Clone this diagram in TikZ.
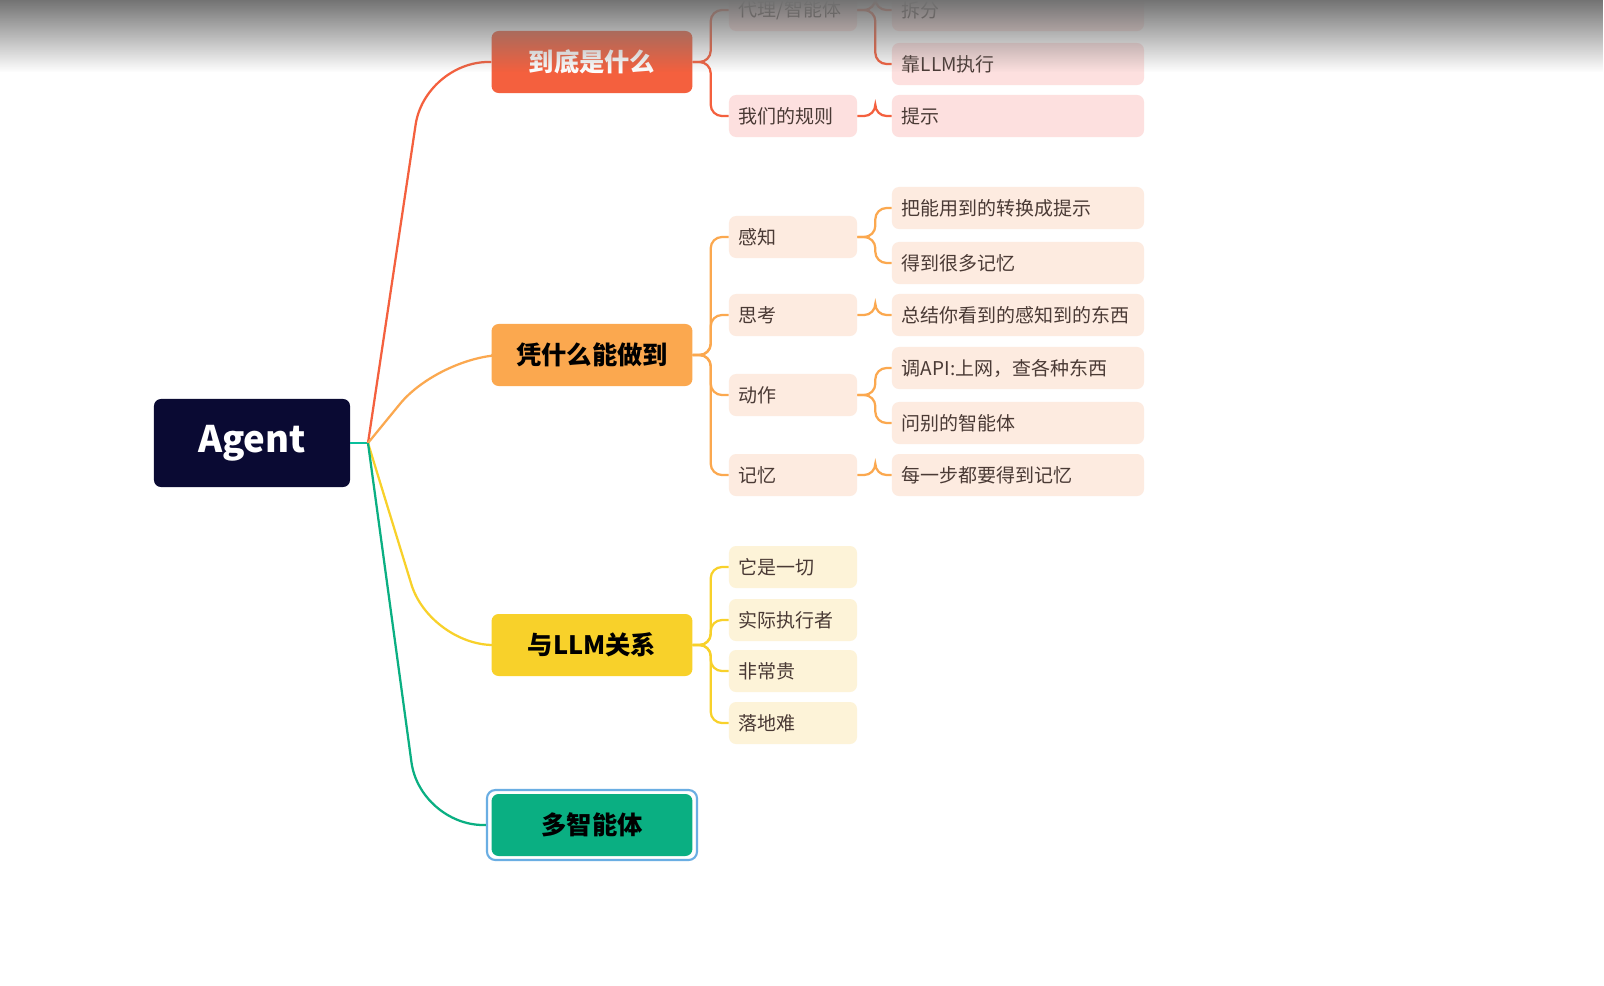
\documentclass[tikz,border=0pt]{standalone}
\usepackage{fontspec}
\setmainfont{Noto Sans CJK SC}
\usetikzlibrary{fadings}
\definecolor{navy}{HTML}{0A0A33}
\definecolor{redb}{HTML}{F4603E}
\definecolor{orangeb}{HTML}{FBA84F}
\definecolor{yellowb}{HTML}{F8D12A}
\definecolor{greenb}{HTML}{0AAF82}
\definecolor{redl}{HTML}{FDE0DF}
\definecolor{orangel}{HTML}{FDEBE0}
\definecolor{yellowl}{HTML}{FDF3D8}
\definecolor{leaftext}{HTML}{4A3A35}
\tikzset{
  main/.style={rounded corners=5pt,minimum width=5.02cm,minimum height=1.55cm,font=\fontsize{18}{20}\selectfont\bfseries},
  sub/.style={rounded corners=5pt,minimum height=1.05cm,text=leaftext,font=\fontsize{13.5}{15}\selectfont,align=left,text width=2.7cm,inner xsep=0.25cm},
  leaf/.style={sub,text width=5.8cm},
  link/.style={line width=1.6pt,rounded corners=8pt}
}
\begin{document}
\begin{tikzpicture}[x=0.025cm,y=-0.025cm]
\fill[white] (0,0) rectangle (1604,986);
\useasboundingbox (0,0) rectangle (1604,986);
% root
\node[fill=navy,rounded corners=5pt,minimum width=4.9cm,minimum height=2.2cm,text=white,font=\fontsize{26}{28}\selectfont\bfseries] (agent) at (252,443) {Agent};
% branches
\node[main,fill=redb,text=white] (what) at (592,62) {到底是什么};
\node[main,fill=orangeb] (how) at (592,355) {凭什么能做到};
\node[main,fill=yellowb] (llm) at (592,645) {与LLM关系};
\node[draw=cyan!70!blue!60,line width=1.5pt,rounded corners=6pt,minimum width=5.25cm,minimum height=1.75cm] (multiframe) at (592,825) {};
\node[main,fill=greenb] (multi) at (592,825) {多智能体};
% level 2
\node[sub,fill=redl] (agentdef) at (793,10) {代理/智能体};
\node[sub,fill=redl] (rules) at (793,116) {我们的规则};
\node[sub,fill=orangel] (sense) at (793,237) {感知};
\node[sub,fill=orangel] (think) at (793,315) {思考};
\node[sub,fill=orangel] (act) at (793,395) {动作};
\node[sub,fill=orangel] (mem) at (793,475) {记忆};
\node[sub,fill=yellowl] (all) at (793,567) {它是一切};
\node[sub,fill=yellowl] (exec) at (793,620) {实际执行者};
\node[sub,fill=yellowl] (cost) at (793,671) {非常贵};
\node[sub,fill=yellowl] (hard) at (793,723) {落地难};
% level 3
\node[leaf,fill=redl] (split) at (1018,10) {拆分};
\node[leaf,fill=redl] (byllm) at (1018,64) {靠LLM执行};
\node[leaf,fill=redl] (prompt) at (1018,116) {提示};
\node[leaf,fill=orangel] (convert) at (1018,208) {把能用到的转换成提示};
\node[leaf,fill=orangel] (manymem) at (1018,263) {得到很多记忆};
\node[leaf,fill=orangel] (summary) at (1018,315) {总结你看到的感知到的东西};
\node[leaf,fill=orangel] (api) at (1018,368) {调API:上网，查各种东西};
\node[leaf,fill=orangel] (ask) at (1018,423) {问别的智能体};
\node[leaf,fill=orangel] (stepmem) at (1018,475) {每一步都要得到记忆};
% root links
\draw[line width=1.6pt,greenb!80!cyan] (agent.east) -- (368,443);
\draw[link,redb,rounded corners=45pt] (368,443) -- (425,62) -- (what.west);
\draw[link,orangeb,rounded corners=45pt] (368,443) -- (440,355) -- (how.west);
\draw[link,yellowb,rounded corners=45pt] (368,443) -- (430,645) -- (llm.west);
\draw[link,greenb,rounded corners=45pt] (368,443) -- (420,825) -- (multiframe.west);
% branch links
\foreach \p/\c/\col in {what/agentdef/redb,what/rules/redb,how/sense/orangeb,how/think/orangeb,how/act/orangeb,how/mem/orangeb,llm/all/yellowb,llm/exec/yellowb,llm/cost/yellowb,llm/hard/yellowb,agentdef/split/redb,agentdef/byllm/redb,rules/prompt/redb,sense/convert/orangeb,sense/manymem/orangeb,think/summary/orangeb,act/api/orangeb,act/ask/orangeb,mem/stepmem/orangeb}
  \draw[link,\col] (\p.east) -- ++(18,0) |- (\c.west);
% top shadow
\fill[black!55,path fading=south] (0,0) rectangle (1604,72);
\end{tikzpicture}
\end{document}
